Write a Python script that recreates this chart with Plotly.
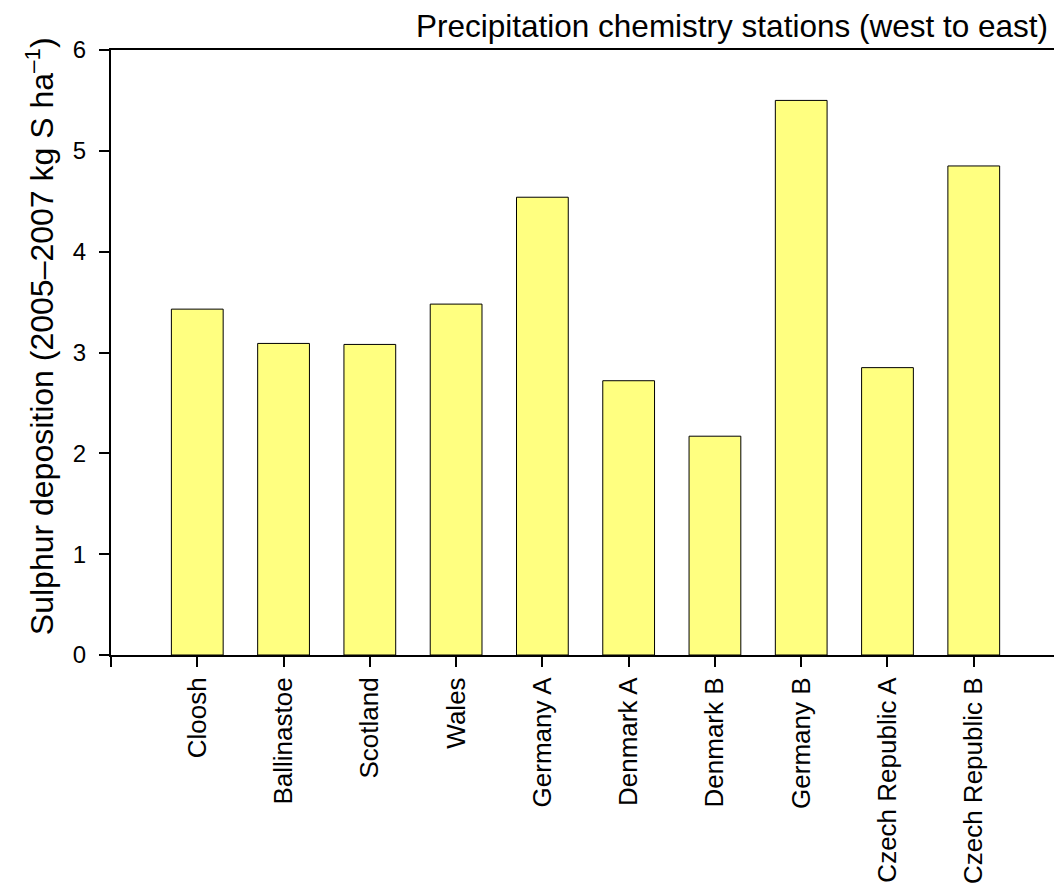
import plotly.graph_objects as go

# stations, west to east
stations = ["Cloosh", "Ballinastoe", "Scotland", "Wales", "Germany A",
            "Denmark A", "Denmark B", "Germany B", "Czech Republic A", "Czech Republic B"]
# sulphur deposition 2005-2007 (kg S / ha)
deposition = [3.43, 3.09, 3.08, 3.48, 4.54, 2.72, 2.17, 5.50, 2.85, 4.85]

yticks = [0, 1, 2, 3, 4, 5, 6]

FONT = "Arial, Liberation Sans, sans-serif"
pos = list(range(len(stations)))

fig = go.Figure(go.Bar(
    x=pos, y=deposition, width=0.6,
    marker=dict(color="#FFFF80", line=dict(color="black", width=1)),
))

fig.update_layout(
    width=1055, height=891,
    margin=dict(l=111, r=1, t=50, b=236),
    plot_bgcolor="white", paper_bgcolor="white",
    showlegend=False,
    font=dict(family=FONT, color="black"),
    annotations=[
        dict(text="Precipitation chemistry stations (west to east)",
             xref="paper", yref="paper", x=0.996, y=1, xanchor="right", yanchor="bottom",
             yshift=4, showarrow=False, font=dict(size=31.5, family=FONT, color="black")),
        # y title sits a little above the middle of the axis in the original
        dict(text="Sulphur deposition (2005–2007 kg S ha<sup>–1</sup>)",
             xref="paper", yref="paper", x=0, y=0.527, xanchor="center", yanchor="middle",
             xshift=-71, textangle=-90, showarrow=False,
             font=dict(size=32, family=FONT, color="black")),
    ],
)

fig.update_xaxes(
    range=[-1, 9.93], tickmode="array",
    tickvals=[-1] + pos, ticktext=[""] + stations,
    tickangle=-90, tickfont=dict(size=26),
    showline=True, linecolor="black", linewidth=2, mirror=True,
    ticks="outside", ticklen=10, tickwidth=2, tickcolor="black",
    showgrid=False, zeroline=False,
)

fig.update_yaxes(
    range=[0, 6], tickmode="array", tickvals=yticks,
    tickfont=dict(size=24),
    showline=True, linecolor="black", linewidth=2,
    ticks="outside", ticklen=10, tickwidth=2, tickcolor="black",
    ticklabelstandoff=8,
    showgrid=False, zeroline=False,
)

# page body has a default 8px margin; drop it so the figure fills the window
fig.write_html("out.html", config={"displayModeBar": False},
               post_script="document.body.style.margin='0px';")
